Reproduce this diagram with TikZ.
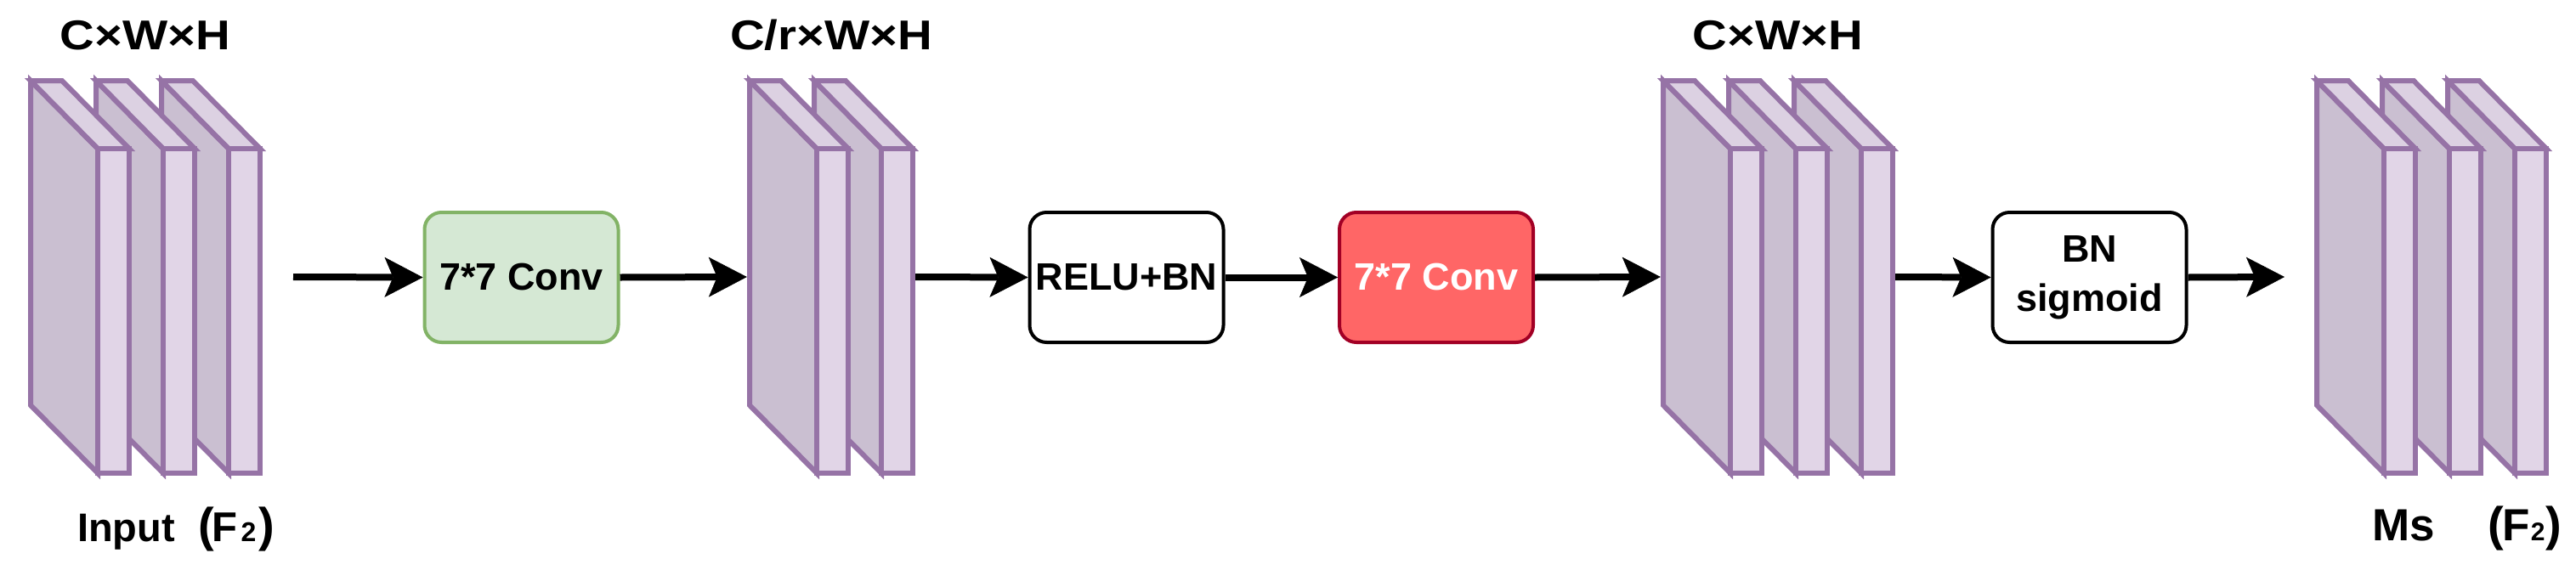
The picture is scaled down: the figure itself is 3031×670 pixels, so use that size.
\documentclass[tikz,border=0pt]{standalone}
\usepackage{fontspec}
\setmainfont{Liberation Sans}
\newfontfamily\widefont[FakeStretch=1.15]{Liberation Sans}
\usetikzlibrary{arrows.meta}
\definecolor{slabline}{HTML}{9673A6}
\definecolor{slabfrontc}{HTML}{E1D5E7}
\definecolor{slabtopc}{HTML}{DCD1E2}
\definecolor{slabsidec}{HTML}{CABFD1}
\definecolor{greenfill}{HTML}{D5E8D4}
\definecolor{greenline}{HTML}{82B366}
\definecolor{redfill}{HTML}{FF6666}
\definecolor{redline}{HTML}{A20025}
\newcommand{\featslab}[1]{%
  \filldraw[slabside] (#1+3,95) -- ++(79,80) -- ++(0,382) -- ++(-79,-80) -- cycle;
  \filldraw[slabtop] (#1+3,95) -- ++(37,0) -- ++(79,80) -- ++(-37,0) -- cycle;
  \filldraw[slabfront] (#1+82,175) rectangle ++(37,382);
}
\newcommand{\pfont}{\fontsize{56}{56}\selectfont}
\begin{document}
\begin{tikzpicture}[x=1pt,y=-1pt,
  slabside/.style={draw=slabline, fill=slabsidec, line width=6pt},
  slabtop/.style={draw=slabline, fill=slabtopc, line width=6pt},
  slabfront/.style={draw=slabline, fill=slabfrontc, line width=6pt},
  grp/.style={inner sep=0pt, minimum height=468pt},
  opbox/.style={rounded corners=20pt, line width=4pt, minimum width=228pt,
    minimum height=153pt, inner sep=0pt, align=center,
    font=\fontsize{45}{58}\selectfont\bfseries},
  plainbox/.style={opbox, draw=black, fill=white},
  greenbox/.style={opbox, draw=greenline, fill=greenfill},
  redbox/.style={opbox, draw=redline, fill=redfill, text=white},
  toplabel/.style={anchor=base, inner sep=0pt, font=\widefont\fontsize{49}{56}\selectfont\bfseries},
  botlabel/.style={anchor=base west, inner sep=0pt, font=\bfseries},
  conn/.style={line width=8pt, -{Stealth[length=45pt,width=47pt,inset=10pt,line width=0.5pt]}}]
\useasboundingbox (0,0) rectangle (3031,670);

% feature-map stacks (drawn back to front)
\featslab{187}\featslab{110}\featslab{33}
\featslab{955}\featslab{879}
\featslab{2108}\featslab{2031}\featslab{1954}
\featslab{2877}\featslab{2800}\featslab{2723}

\node[grp, minimum width=276pt] (g1) at (171,326) {};
\node[grp, minimum width=198pt] (g2) at (978,326) {};
\node[grp, minimum width=276pt] (g3) at (2092,326) {};
\node[grp, minimum width=276pt] (g4) at (2861,326) {};

% labels
\node[toplabel] (t1) at (171,58) {C×W×H};
\node[toplabel] (t2) at (978,58) {C/r×W×H};
\node[toplabel] (t3) at (2092,58) {C×W×H};
\node[botlabel] (inlbl) at (91,637) {{\fontsize{47}{50}\selectfont Input}\hspace{27pt}{\pfont(}\kern-2pt{\fontsize{49}{50}\selectfont F}\kern4pt{\fontsize{32}{32}\selectfont 2}\kern3pt{\pfont)}};
\node[botlabel] (outlbl) at (2791,636) {{\fontsize{53}{56}\selectfont Ms}\hspace{63pt}{\pfont(}\kern-2pt{\fontsize{53}{56}\selectfont F}\kern1pt{\fontsize{30}{30}\selectfont 2}\kern1pt{\pfont)}};

% operation boxes
\node[greenbox] (b1) at (613.5,326.5) {7*7 Conv};
\node[plainbox] (b2) at (1325.5,326.5) {RELU+BN};
\node[redbox]   (b3) at (1690,326.5) {7*7 Conv};
\node[plainbox] (b4) at (2458.5,326.5) {BN\\sigmoid};

\coordinate (src) at (345,326);
\coordinate (dst) at (2688,326);

% connectors
\draw[conn] (src) -- (b1.west);
\draw[conn] (b1.east) -- (g2.west);
\draw[conn] (g2.east) -- (b2.west);
\draw[conn] (b2.east) -- (b3.west);
\draw[conn] (b3.east) -- (g3.west);
\draw[conn] (g3.east) -- (b4.west);
\draw[conn] (b4.east) -- (dst);
\end{tikzpicture}
\end{document}
